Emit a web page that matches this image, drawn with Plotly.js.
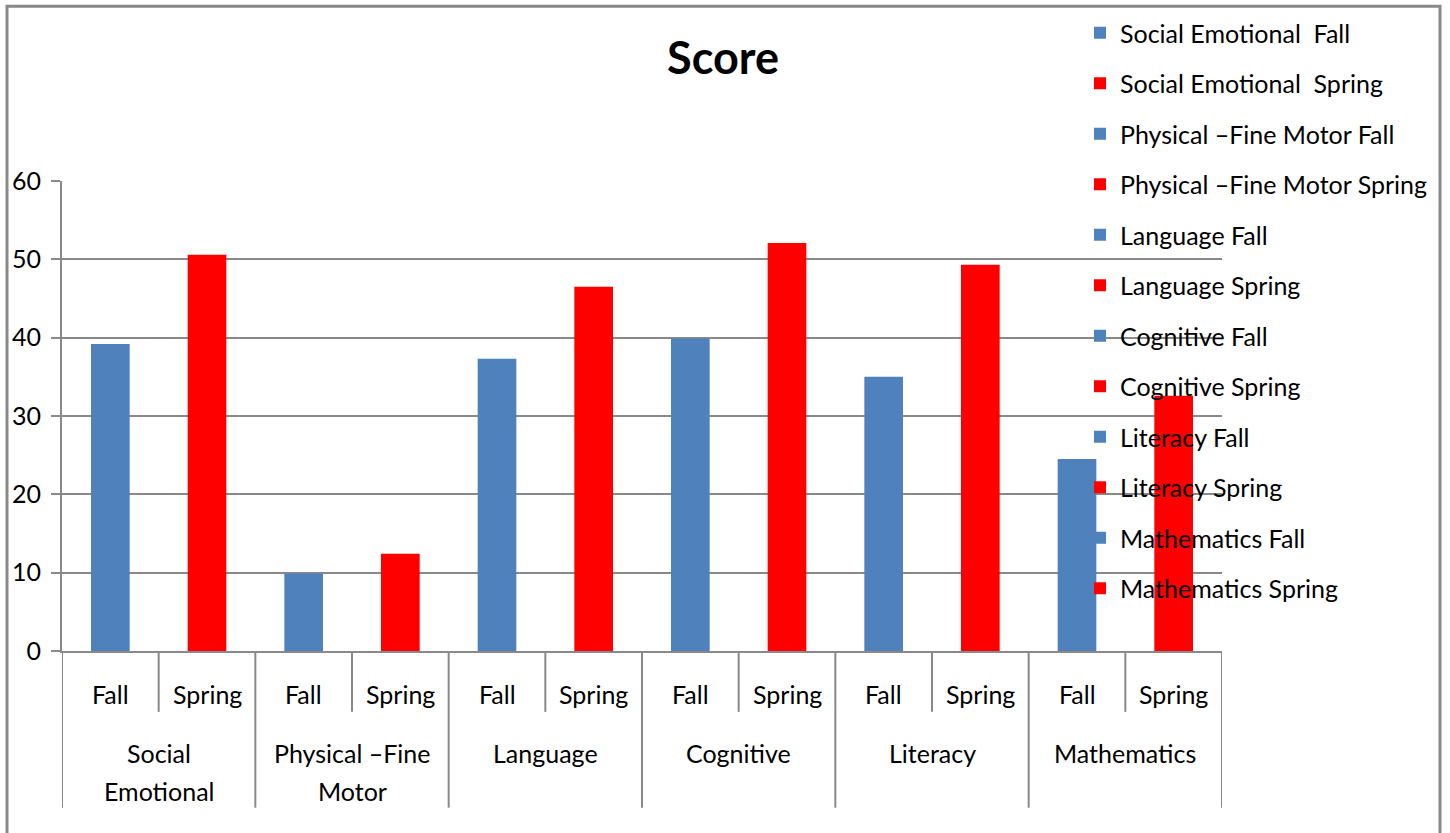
<!DOCTYPE html>
<html>
<head>
<meta charset="utf-8">
<script src="https://cdn.plot.ly/plotly-3.0.1.min.js"></script>
<style>
html,body{margin:0;padding:0;background:#fff;}
#chart{width:1450px;height:833px;}
</style>
</head>
<body>
<div id="chart"></div>
<script>
// ---- data ----
const groups = ["Social Emotional", "Physical –Fine Motor", "Language", "Cognitive", "Literacy", "Mathematics"];
const groupLabelLines = [["Social", "Emotional"], ["Physical –Fine", "Motor"], ["Language"], ["Cognitive"], ["Literacy"], ["Mathematics"]];
const seasons = ["Fall", "Spring"];
const fallValues = [39.2, 9.9, 37.3, 39.9, 35.0, 24.5];
const springValues = [50.6, 12.4, 46.5, 52.1, 49.3, 32.6];
const legendNames = [
  "Social Emotional  Fall", "Social Emotional  Spring",
  "Physical –Fine Motor Fall", "Physical –Fine Motor Spring",
  "Language Fall", "Language Spring",
  "Cognitive Fall", "Cognitive Spring",
  "Literacy Fall", "Literacy Spring",
  "Mathematics Fall", "Mathematics Spring"
];
const yTicks = [0, 10, 20, 30, 40, 50, 60];

// ---- styling ----
const FONT = "Lato, 'Open Sans', sans-serif";
const FS = 25;
const GRAY = "#898989";
const colors = ["#4F81BD", "#FF0000"];

const traces = [];
const seriesValues = [fallValues, springValues];
groups.forEach((g, i) => {
  seasons.forEach((s, j) => {
    const idx = i * 2 + j;
    traces.push({
      type: "bar",
      x: [idx],
      y: [seriesValues[j][i]],
      width: 0.4,
      name: legendNames[idx],
      legendgroup: "g" + idx,
      marker: {color: colors[j], line: {width: 0}},
      hoverinfo: "name+y"
    });
  });
});

// plot geometry helpers (paper coordinates)
const plotTopPx = 180, plotBotPx = 651, plotLeftPx = 62, plotRightPx = 1222;
const H = plotBotPx - plotTopPx, W = plotRightPx - plotLeftPx;
const py = px => (plotBotPx - px) / H;
const pxx = px => (px - plotLeftPx) / W;

const annotations = [];
for (let k = 0; k < groups.length * seasons.length; k++) {
  annotations.push({
    xref: "x", yref: "paper", x: k, y: py(694),
    text: seasons[k % 2], showarrow: false,
    xanchor: "center", yanchor: "middle",
    font: {family: FONT, size: FS, color: "#000"}
  });
}
groupLabelLines.forEach((lines, i) => {
  lines.forEach((t, li) => {
    annotations.push({
      xref: "x", yref: "paper", x: i * 2 + 0.5, y: py(753 + li * 38),
      text: t, showarrow: false,
      xanchor: "center", yanchor: "middle",
      font: {family: FONT, size: FS, color: "#000"}
    });
  });
});

const shapes = [];
for (let k = 0; k <= groups.length * seasons.length; k++) {
  const isGroup = k % 2 === 0;
  shapes.push({
    type: "line", xref: "x", yref: "paper",
    x0: k - 0.5, x1: k - 0.5, y0: 0, y1: py(isGroup ? 808 : 712),
    line: {color: GRAY, width: 2}
  });
}
// outer chart border
shapes.push({
  type: "rect", xref: "paper", yref: "paper",
  x0: pxx(7), x1: pxx(1440), y0: py(845), y1: py(5),
  line: {color: GRAY, width: 3}, fillcolor: "rgba(0,0,0,0)"
});

const layout = {
  width: 1450, height: 833,
  margin: {l: plotLeftPx, r: 1450 - plotRightPx, t: plotTopPx, b: 833 - plotBotPx, pad: 0},
  paper_bgcolor: "#fff", plot_bgcolor: "#fff",
  barmode: "overlay",
  title: {
    text: "<b>Score</b>",
    font: {family: FONT, size: 45, color: "#000"},
    x: 723 / 1450, xanchor: "center", xref: "container",
    y: 1 - 58 / 833, yanchor: "middle", yref: "container"
  },
  xaxis: {
    range: [-0.5, 11.5], showticklabels: false, showgrid: false, zeroline: false,
    showline: true, linecolor: GRAY, linewidth: 2, ticks: "", fixedrange: true
  },
  yaxis: {
    range: [0, 60], tickvals: yTicks, ticktext: yTicks.map(String),
    showgrid: true, gridcolor: GRAY, gridwidth: 2, zeroline: false,
    showline: true, linecolor: GRAY, linewidth: 2,
    ticks: "outside", ticklen: 9, tickcolor: GRAY, tickwidth: 2,
    ticklabelstandoff: 5,
    tickfont: {family: FONT, size: FS, color: "#000"}, fixedrange: true
  },
  showlegend: true,
  legend: {
    x: pxx(1080), xanchor: "left", y: py(10), yanchor: "top",
    bgcolor: "rgba(0,0,0,0)", borderwidth: 0,
    font: {family: FONT, size: FS, color: "#000"},
    traceorder: "grouped", tracegroupgap: 15, itemwidth: 30,
    maxheight: 833
  },
  annotations: annotations,
  shapes: shapes
};

Plotly.newPlot("chart", traces, layout, {displayModeBar: false, staticPlot: true});
</script>
</body>
</html>
